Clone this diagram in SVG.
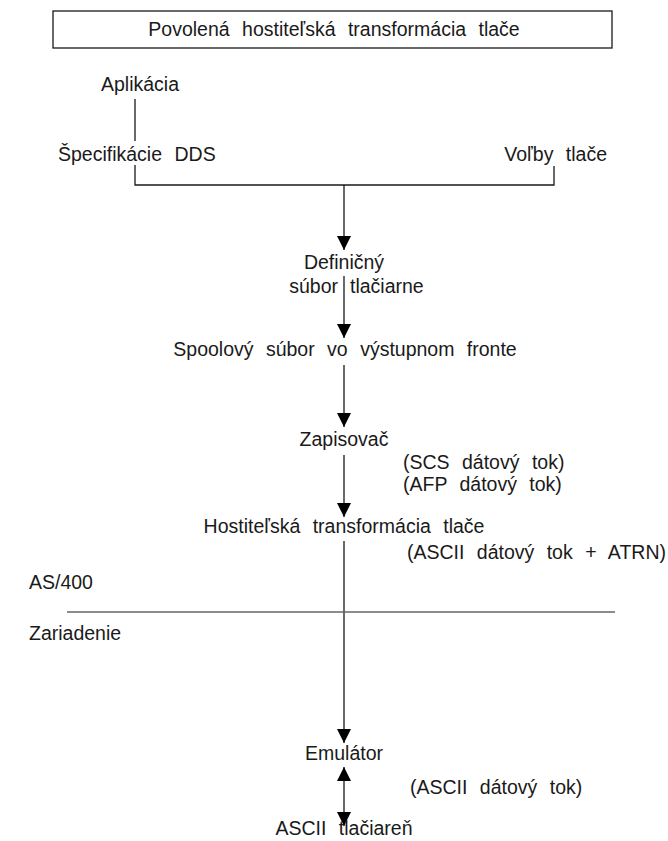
<svg xmlns="http://www.w3.org/2000/svg" width="668" height="841" viewBox="0 0 668 841">
  <style>
    .lbl { font-family: "Liberation Sans", Arial, sans-serif; font-size: 19.5px; fill: #1a1a1a; word-spacing: 7px; }
    .mid { text-anchor: middle; }
    .end { text-anchor: end; }
    .ln { stroke: #1a1a1a; stroke-width: 1.3; fill: none; }
    .sep { stroke: #666; stroke-width: 1.5; fill: none; }
    .box { stroke: #1a1a1a; stroke-width: 1.3; fill: #fff; }
  </style>
  <defs>
    <marker id="arrow" markerUnits="userSpaceOnUse" markerWidth="16" markerHeight="14" viewBox="0 0 16 14" refX="14" refY="7" orient="auto-start-reverse">
      <path d="M0,0 L14,7 L0,14 Z" fill="#000"/>
    </marker>
  </defs>

  <rect width="668" height="841" fill="#fff"/>

  <!-- title banner -->
  <g id="title">
    <rect class="box" x="53" y="11" width="559" height="37"/>
    <text class="lbl mid" x="334" y="36">Povolená hostiteľská transformácia tlače</text>
  </g>

  <!-- connectors -->
  <g id="connectors">
    <path class="ln" d="M135,99 V141 M135,165 V185 H554 V166"/>
    <path class="ln" d="M344,185 V250" marker-end="url(#arrow)"/>
    <path class="ln" d="M344,276 V338" marker-end="url(#arrow)"/>
    <path class="ln" d="M344,365 V427" marker-end="url(#arrow)"/>
    <path class="ln" d="M344,455 V517" marker-end="url(#arrow)"/>
    <path class="ln" d="M344,541 V743" marker-end="url(#arrow)"/>
    <path class="ln" d="M344,767 V826" marker-start="url(#arrow)" marker-end="url(#arrow)"/>
    <path class="sep" d="M67,612 H615"/>
  </g>

  <g id="aplikacia"><text class="lbl" x="101" y="91">Aplikácia</text></g>
  <g id="dds"><text class="lbl" x="58" y="161">Špecifikácie DDS</text></g>
  <g id="volby"><text class="lbl end" x="607" y="161">Voľby tlače</text></g>
  <g id="definicny">
    <text class="lbl mid" x="344" y="269">Definičný</text>
    <text class="lbl end" x="338" y="293">súbor</text>
    <text class="lbl" x="350" y="293">tlačiarne</text>
  </g>
  <g id="spool"><text class="lbl mid" x="345" y="356">Spoolový súbor vo výstupnom fronte</text></g>
  <g id="zapisovac"><text class="lbl mid" x="344" y="446">Zapisovač</text></g>
  <g id="scs"><text class="lbl" x="403" y="469">(SCS dátový tok)</text></g>
  <g id="afp"><text class="lbl" x="403" y="491">(AFP dátový tok)</text></g>
  <g id="hpt"><text class="lbl mid" x="344" y="533">Hostiteľská transformácia tlače</text></g>
  <g id="ascii-atrn"><text class="lbl end" x="666" y="559">(ASCII dátový tok + ATRN)</text></g>
  <g id="as400"><text class="lbl" x="29" y="589">AS/400</text></g>
  <g id="zariadenie"><text class="lbl" x="29" y="640">Zariadenie</text></g>
  <g id="emulator"><text class="lbl mid" x="344" y="760">Emulátor</text></g>
  <g id="ascii-tok"><text class="lbl" x="410" y="794">(ASCII dátový tok)</text></g>
  <g id="tlaciaren"><text class="lbl mid" x="344" y="835">ASCII tlačiareň</text></g>
</svg>
